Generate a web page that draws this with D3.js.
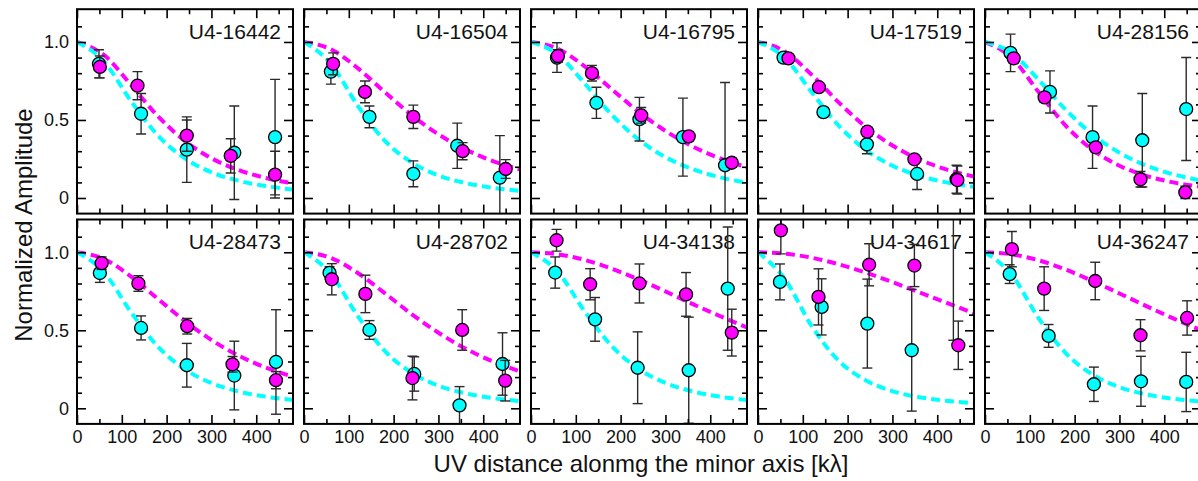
<!DOCTYPE html>
<html>
<head>
<meta charset="utf-8">
<script src="https://cdn.jsdelivr.net/npm/d3@7"></script>
<style>
  html, body { margin: 0; padding: 0; background: #fff; }
  svg { display: block; font-family: "Liberation Sans", Arial, Helvetica, sans-serif; }
</style>
</head>
<body>
<svg id="chart" width="1198" height="481"></svg>
<script>
// Source names, one per panel (row-major, 5 per row)
const panelNames = ["U4-16442", "U4-16504", "U4-16795", "U4-17519", "U4-28156",
                    "U4-28473", "U4-28702", "U4-34138", "U4-34617", "U4-36247"];

const xTickValues = [0, 100, 200, 300, 400];
const xMinorTicks = [50, 150, 250, 350, 450];
const yTickValues = [0, 0.5, 1.0];
const yTickLabels = ["0", "0.5", "1.0"];
const yMinorTicks = [0.1, 0.2, 0.3, 0.4, 0.6, 0.7, 0.8, 0.9, 1.1];

// Model visibility profiles, sampled along the minor-axis uv distance (kλ)
const modelUV = [0, 60, 120, 180, 240, 300, 360, 420, 482];
const cyanModel = [
  [1, 0.875, 0.623, 0.402, 0.255, 0.165, 0.111, 0.077, 0.054],
  [1, 0.861, 0.591, 0.368, 0.228, 0.145, 0.096, 0.066, 0.046],
  [1, 0.919, 0.733, 0.534, 0.375, 0.262, 0.186, 0.134, 0.098],
  [1, 0.898, 0.677, 0.464, 0.309, 0.207, 0.142, 0.100, 0.072],
  [1, 0.928, 0.756, 0.566, 0.407, 0.290, 0.208, 0.152, 0.112],
  [1, 0.873, 0.618, 0.397, 0.251, 0.162, 0.108, 0.075, 0.053],
  [1, 0.861, 0.591, 0.368, 0.228, 0.145, 0.096, 0.066, 0.046],
  [1, 0.874, 0.620, 0.399, 0.253, 0.163, 0.109, 0.075, 0.053],
  [1, 0.828, 0.526, 0.305, 0.180, 0.110, 0.071, 0.048, 0.033],
  [1, 0.854, 0.576, 0.354, 0.216, 0.136, 0.089, 0.061, 0.043]
];
const magentaModel = [
  [1, 0.917, 0.726, 0.526, 0.367, 0.255, 0.180, 0.129, 0.094],
  [1, 0.953, 0.832, 0.679, 0.532, 0.408, 0.312, 0.238, 0.183],
  [1, 0.956, 0.843, 0.697, 0.553, 0.430, 0.331, 0.256, 0.197],
  [1, 0.939, 0.789, 0.613, 0.457, 0.336, 0.247, 0.183, 0.137],
  [1, 0.898, 0.677, 0.464, 0.309, 0.207, 0.142, 0.100, 0.072],
  [1, 0.957, 0.846, 0.703, 0.561, 0.438, 0.339, 0.262, 0.203],
  [1, 0.964, 0.867, 0.738, 0.604, 0.484, 0.383, 0.302, 0.237],
  [1, 0.987, 0.951, 0.895, 0.826, 0.749, 0.669, 0.593, 0.518],
  [1, 0.991, 0.965, 0.923, 0.870, 0.809, 0.743, 0.677, 0.609],
  [1, 0.987, 0.948, 0.889, 0.816, 0.736, 0.655, 0.576, 0.501]
];

// Measured amplitudes (cyan component)
const cyanUV = [
  [49, 143, 245, 351, 442], [60, 146, 244, 342, 437], [58, 146, 242, 339, 433],
  [57, 146, 243, 355, 443], [57, 145, 240, 351, 449], [51, 143, 245, 351, 444],
  [57, 146, 246, 347, 443], [54, 143, 238, 352, 439], [49, 142, 244, 343, 436],
  [55, 142, 243, 348, 449]
];
const cyanAmp = [
  [0.86, 0.54, 0.31, 0.29, 0.39], [0.81, 0.52, 0.155, 0.335, 0.13], [0.90, 0.61, 0.505, 0.39, 0.21],
  [0.90, 0.55, 0.344, 0.154, 0.12], [0.93, 0.68, 0.39, 0.37, 0.57], [0.867, 0.515, 0.276, 0.21, 0.297],
  [0.868, 0.502, 0.22, 0.019, 0.284], [0.87, 0.57, 0.26, 0.244, 0.767], [0.81, 0.65, 0.543, 0.372, 1.35],
  [0.86, 0.464, 0.154, 0.173, 0.169]
];
const cyanErr = [
  [0.09, 0.13, 0.21, 0.30, 0.37], [0.08, 0.07, 0.083, 0.145, 0.27], [0.095, 0.10, 0.14, 0.25, 0.53],
  [0.03, 0.03, 0.06, 0.10, 0.09], [0.12, 0.135, 0.20, 0.30, 0.33], [0.06, 0.077, 0.14, 0.22, 0.335],
  [0.04, 0.06, 0.11, 0.12, 0.20], [0.10, 0.14, 0.23, 0.34, 0.395], [0.115, 0.18, 0.285, 0.39, 0.914],
  [0.06, 0.073, 0.11, 0.16, 0.19]
];

// Measured amplitudes (magenta component)
const magentaUV = [
  [51, 135, 245, 343, 442], [65, 136, 244, 354, 450], [60, 136, 246, 352, 448],
  [68, 136, 244, 349, 445], [64, 133, 247, 347, 447], [55, 137, 246, 347, 444],
  [62, 137, 242, 353, 449], [57, 132, 242, 346, 448], [51, 135, 248, 349, 447],
  [60, 132, 246, 347, 451]
];
const magentaAmp = [
  [0.84, 0.72, 0.40, 0.27, 0.15], [0.86, 0.68, 0.52, 0.30, 0.186], [0.91, 0.80, 0.53, 0.395, 0.226],
  [0.895, 0.71, 0.425, 0.248, 0.115], [0.895, 0.645, 0.325, 0.12, 0.036], [0.93, 0.80, 0.526, 0.282, 0.18],
  [0.827, 0.733, 0.194, 0.502, 0.177], [1.077, 0.795, 0.80, 0.73, 0.485], [1.14, 0.714, 0.92, 0.915, 0.404],
  [1.02, 0.767, 0.816, 0.468, 0.579]
];
const magentaErr = [
  [0.07, 0.09, 0.10, 0.11, 0.15], [0.07, 0.07, 0.075, 0.055, 0.06], [0.04, 0.05, 0.05, 0.03, 0.03],
  [0.02, 0.02, 0.03, 0.02, 0.09], [0.03, 0.03, 0.03, 0.05, 0.04], [0.04, 0.05, 0.05, 0.05, 0.055],
  [0.10, 0.12, 0.14, 0.13, 0.13], [0.07, 0.10, 0.125, 0.14, 0.15], [0.15, 0.18, 0.135, 0.135, 0.155],
  [0.113, 0.14, 0.12, 0.10, 0.11]
];

// ---- layout ----
const svg = d3.select("#chart");
const panelW = 216, panelH = 204.4;
const colLeft = c => 77 + 227 * c;
const rowTop = [9.2, 219.5];
const CYAN = "#00ffff", MAGENTA = "#ff00ff";

const x = d3.scaleLinear().domain([0, 482]).range([0, panelW]);
const y = d3.scaleLinear().domain([-0.1, 1.21]).range([panelH, 0]);

const defs = svg.append("defs");
defs.append("clipPath").attr("id", "panel-clip")
  .append("rect").attr("x", 0).attr("y", 0).attr("width", panelW).attr("height", panelH);

const line = d3.line()
  .x((d, i) => x(modelUV[i]))
  .y(d => y(d))
  .curve(d3.curveMonotoneX);

function styleAxis(g) {
  g.select(".domain").remove();
  g.selectAll(".tick line").attr("stroke", "#000").attr("stroke-width", 1.6);
  g.selectAll(".tick text").attr("fill", "#111").attr("font-size", 18)
    .attr("font-family", "'Liberation Sans', Arial, Helvetica, sans-serif");
}

function drawSeries(layer, uv, amp, err, color) {
  const pts = uv.map((u, i) => ({ u, a: amp[i], e: err[i] }));
  const bars = layer.append("g").attr("stroke", "#2a2a2a").attr("stroke-width", 1.4).attr("fill", "none");
  pts.forEach(p => {
    bars.append("line").attr("x1", x(p.u)).attr("x2", x(p.u))
      .attr("y1", y(p.a - p.e)).attr("y2", y(p.a + p.e));
    [p.a - p.e, p.a + p.e].forEach(v => {
      bars.append("line").attr("x1", x(p.u) - 5).attr("x2", x(p.u) + 5)
        .attr("y1", y(v)).attr("y2", y(v));
    });
  });
  layer.append("g").selectAll("circle").data(pts).join("circle")
    .attr("cx", d => x(d.u)).attr("cy", d => y(d.a)).attr("r", 6.5)
    .attr("fill", color).attr("stroke", "#000").attr("stroke-width", 1.3);
}

panelNames.forEach((name, k) => {
  const row = Math.floor(k / 5), col = k % 5;
  const g = svg.append("g").attr("transform", `translate(${colLeft(col)},${rowTop[row]})`);

  // source label, top right
  g.append("text").attr("x", panelW - 12).attr("y", 29.5)
    .attr("text-anchor", "end").attr("font-size", 21).attr("fill", "#111").text(name);

  const inner = g.append("g").attr("clip-path", "url(#panel-clip)");

  // model curves
  inner.append("path").datum(magentaModel[k]).attr("d", line)
    .attr("fill", "none").attr("stroke", MAGENTA).attr("stroke-width", 4).attr("stroke-dasharray", "9,5");
  inner.append("path").datum(cyanModel[k]).attr("d", line)
    .attr("fill", "none").attr("stroke", CYAN).attr("stroke-width", 4).attr("stroke-dasharray", "9,5");

  // data with error bars
  drawSeries(inner, cyanUV[k], cyanAmp[k], cyanErr[k], CYAN);
  drawSeries(inner, magentaUV[k], magentaAmp[k], magentaErr[k], MAGENTA);

  // inward ticks on all four sides
  const bottom = g.append("g").attr("transform", `translate(0,${panelH})`)
    .call(d3.axisBottom(x).tickValues(xTickValues).tickSize(-9).tickSizeOuter(0).tickPadding(6)
      .tickFormat(row === 1 ? d3.format("d") : () => ""));
  styleAxis(bottom);
  styleAxis(g.append("g").attr("transform", `translate(0,${panelH})`)
    .call(d3.axisBottom(x).tickValues(xMinorTicks).tickSize(-5).tickFormat(() => "")));
  styleAxis(g.append("g")
    .call(d3.axisTop(x).tickValues(xTickValues).tickSize(-9).tickFormat(() => "")));
  styleAxis(g.append("g")
    .call(d3.axisTop(x).tickValues(xMinorTicks).tickSize(-5).tickFormat(() => "")));

  const left = g.append("g")
    .call(d3.axisLeft(y).tickValues(yTickValues).tickSize(-9).tickSizeOuter(0).tickPadding(8)
      .tickFormat((d, i) => col === 0 ? yTickLabels[i] : ""));
  styleAxis(left);
  styleAxis(g.append("g")
    .call(d3.axisLeft(y).tickValues(yMinorTicks).tickSize(-5).tickFormat(() => "")));
  styleAxis(g.append("g").attr("transform", `translate(${panelW},0)`)
    .call(d3.axisRight(y).tickValues(yTickValues).tickSize(-9).tickFormat(() => "")));
  styleAxis(g.append("g").attr("transform", `translate(${panelW},0)`)
    .call(d3.axisRight(y).tickValues(yMinorTicks).tickSize(-5).tickFormat(() => "")));

  // frame
  g.append("rect").attr("x", 0).attr("y", 0).attr("width", panelW).attr("height", panelH)
    .attr("fill", "none").attr("stroke", "#000").attr("stroke-width", 2);
});

// axis titles
svg.append("text")
  .attr("transform", "translate(32,225) rotate(-90)")
  .attr("text-anchor", "middle").attr("font-size", 24).attr("fill", "#111")
  .text("Normalized Amplitude");
svg.append("text")
  .attr("x", 641).attr("y", 472)
  .attr("text-anchor", "middle").attr("font-size", 24).attr("fill", "#111")
  .text("UV distance alonmg the minor axis [kλ]");
</script>
</body>
</html>
